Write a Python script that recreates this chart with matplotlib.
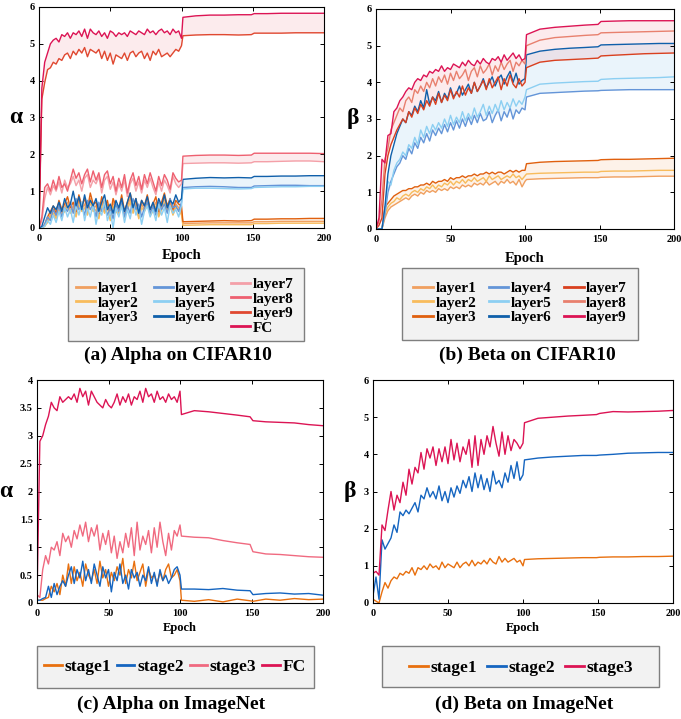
import matplotlib
matplotlib.use('Agg')
import matplotlib.pyplot as plt
from matplotlib.patches import Rectangle
from matplotlib.ticker import FuncFormatter

plt.rcParams['font.family'] = ['Liberation Serif', 'DejaVu Serif']
plt.rcParams['font.weight'] = 'bold'

# epochs: every 2 epochs up to 100, then sparser
ep = list(range(0, 101, 2)) + [101, 110, 120, 130, 140, 149, 151, 160, 170, 180, 190, 200]

# ---- (a) alpha, CIFAR10 ----
a_layer1 = [0, 0.0, 0.05, 0.2, 0.35, 0.5, 0.3, 0.6, 0.4, 0.55, 0.7, 0.45, 0.6, 0.35, 0.75, 0.5, 0.65, 0.4, 0.8, 0.55,
            0.6, 0.3, 0.7, 0.45, 0.65, 0.25, 0.7, 0.5, 0.4, 0.75, 0.35, 0.6, 0.8, 0.45, 0.7, 0.3, 0.65, 0.5, 0.75, 0.4,
            0.55, 0.7, 0.35, 0.6, 0.8, 0.5, 0.7, 0.4, 0.65, 0.55, 0.45,
            0.12, 0.13, 0.14, 0.14, 0.14, 0.14, 0.17, 0.17, 0.18, 0.18, 0.18, 0.18]
a_layer2 = [0, 0.0, 0.05, 0.15, 0.3, 0.4, 0.25, 0.5, 0.35, 0.45, 0.6, 0.4, 0.5, 0.3, 0.65, 0.45, 0.55, 0.35, 0.7, 0.45,
            0.5, 0.25, 0.6, 0.4, 0.55, 0.2, 0.6, 0.45, 0.35, 0.65, 0.3, 0.5, 0.7, 0.4, 0.6, 0.25, 0.55, 0.45, 0.65, 0.35,
            0.45, 0.6, 0.3, 0.5, 0.7, 0.45, 0.6, 0.35, 0.55, 0.5, 0.35,
            0.07, 0.08, 0.09, 0.09, 0.09, 0.09, 0.12, 0.12, 0.13, 0.13, 0.13, 0.13]
a_layer3 = [0, 0.0, 0.1, 0.3, 0.45, 0.6, 0.4, 0.75, 0.5, 0.65, 0.85, 0.55, 0.7, 0.45, 0.9, 0.6, 0.8, 0.5, 0.95, 0.65,
            0.7, 0.4, 0.85, 0.55, 0.75, 0.35, 0.8, 0.6, 0.5, 0.9, 0.45, 0.7, 0.95, 0.55, 0.8, 0.4, 0.75, 0.6, 0.9, 0.5,
            0.65, 0.85, 0.45, 0.7, 0.95, 0.6, 0.8, 0.5, 0.75, 0.65, 0.6,
            0.17, 0.18, 0.19, 0.2, 0.19, 0.2, 0.24, 0.24, 0.25, 0.25, 0.26, 0.26]
a_layer4 = [0, 0.0, 0.1, 0.3, 0.2, 0.5, 0.35, 0.6, 0.3, 0.55, 0.45, 0.7, 0.4, 0.8, 0.5, 0.6, 0.35, 0.75, 0.5, 0.65,
            0.3, 0.7, 0.45, 0.6, 0.35, 0.55, 0.25, 0.65, 0.45, 0.75, 0.3, 0.6, 0.4, 0.8, 0.5, 0.65, 0.3, 0.55, 0.7, 0.4,
            0.6, 0.35, 0.7, 0.5, 0.65, 0.4, 0.8, 0.55, 0.6, 0.45, 0.7,
            1.1, 1.12, 1.13, 1.12, 1.1, 1.1, 1.14, 1.15, 1.16, 1.16, 1.15, 1.15]
a_layer5 = [0, 0.0, 0.05, 0.2, 0.1, 0.35, 0.15, 0.45, 0.2, 0.55, 0.3, 0.5, 0.15, 0.6, 0.35, 0.7, 0.2, 0.55, 0.3, 0.65,
            0.1, 0.5, 0.35, 0.75, 0.2, 0.45, 0.0, 0.55, 0.3, 0.6, 0.15, 0.5, 0.25, 0.7, 0.35, 0.55, 0.1, 0.45, 0.6, 0.3,
            0.5, 0.2, 0.65, 0.35, 0.55, 0.15, 0.6, 0.4, 0.5, 0.3, 0.6,
            1.06, 1.08, 1.08, 1.07, 1.06, 1.07, 1.1, 1.11, 1.12, 1.12, 1.13, 1.13]
a_layer6 = [0, 0.05, 0.3, 0.55, 0.4, 0.6, 0.5, 0.7, 0.45, 0.8, 0.55, 0.65, 1.0, 0.6, 0.85, 0.5, 0.9, 0.55, 0.75, 0.6,
            0.8, 0.45, 0.7, 0.9, 0.5, 0.65, 0.4, 0.75, 0.55, 0.8, 0.45, 0.7, 0.95, 0.55, 0.8, 0.4, 0.75, 0.6, 0.85, 0.5,
            0.7, 0.45, 0.8, 0.6, 0.9, 0.55, 0.75, 0.65, 0.9, 0.7, 0.8,
            1.32, 1.35, 1.37, 1.36, 1.37, 1.36, 1.4, 1.4, 1.41, 1.41, 1.42, 1.42]
a_layer7 = [0, 0.2, 0.8, 1.1, 0.9, 1.15, 1.0, 1.25, 0.95, 1.3, 1.1, 1.2, 1.4, 1.15, 1.3, 1.0, 1.35, 1.45, 1.1, 1.3,
            1.2, 1.4, 0.95, 1.3, 1.4, 1.05, 1.25, 0.9, 1.2, 1.0, 1.3, 0.85, 1.2, 1.35, 1.0, 1.25, 0.95, 1.3, 1.1, 1.35,
            1.1, 0.9, 1.25, 1.0, 1.3, 1.15, 0.95, 1.4, 1.2, 1.1, 1.2,
            1.75, 1.76, 1.77, 1.77, 1.76, 1.77, 1.8, 1.8, 1.81, 1.82, 1.82, 1.8]
a_layer8 = [0, 0.3, 1.1, 1.2, 1.0, 1.3, 1.05, 1.4, 1.1, 1.2, 1.0, 1.3, 1.6, 1.35, 1.5, 1.2, 1.45, 1.6, 1.25, 1.55,
            1.3, 1.5, 1.1, 1.45, 1.55, 1.2, 1.4, 1.0, 1.35, 1.1, 1.45, 0.95, 1.3, 1.5, 1.15, 1.4, 1.05, 1.45, 1.2, 1.5,
            1.25, 1.0, 1.4, 1.15, 1.45, 1.3, 1.05, 1.5, 1.35, 1.25, 1.3,
            1.95, 1.97, 1.98, 1.98, 1.97, 1.98, 2.03, 2.03, 2.03, 2.03, 2.03, 2.02]
a_layer9 = [0.0, 3.5, 3.95, 4.3, 4.35, 4.5, 4.45, 4.6, 4.55, 4.7, 4.75, 4.6, 4.8, 4.7, 4.85, 4.75, 4.9, 4.65, 4.85, 4.8,
            4.75, 4.85, 4.6, 4.8, 4.55, 4.75, 4.45, 4.7, 4.65, 4.6, 4.75, 4.55, 4.75, 4.8, 4.65, 4.75, 4.8, 4.6, 4.75, 4.55,
            4.8, 4.7, 4.85, 4.65, 4.7, 4.75, 4.65, 4.75, 4.85, 4.8, 4.95,
            5.22, 5.24, 5.25, 5.25, 5.24, 5.25, 5.29, 5.29, 5.29, 5.3, 5.3, 5.3]
a_fc = [0.0, 3.8, 4.5, 4.75, 5.0, 5.1, 5.15, 5.05, 5.25, 5.2, 5.3, 5.15, 5.3, 5.25, 5.35, 5.2, 5.4, 5.15, 5.4, 5.3,
        5.25, 5.35, 5.2, 5.3, 5.15, 5.35, 5.3, 5.2, 5.3, 5.25, 5.3, 5.2, 5.35, 5.3, 5.25, 5.35, 5.3, 5.25, 5.4, 5.3,
        5.35, 5.25, 5.35, 5.4, 5.3, 5.35, 5.25, 5.4, 5.3, 5.35, 5.15,
        5.72, 5.76, 5.78, 5.78, 5.79, 5.79, 5.82, 5.82, 5.83, 5.83, 5.83, 5.83]

# ---- (b) beta, CIFAR10 ----
b_layer1 = [0.0, 0.0, 0.0, 0.3, 0.5, 0.6, 0.65, 0.7, 0.75, 0.8, 0.85, 0.8, 0.9, 0.95, 0.9, 1.0, 0.95, 1.05, 1.0, 1.05,
            1.0, 1.1, 1.05, 1.1, 1.05, 1.15, 1.1, 1.15, 1.1, 1.2, 1.15, 1.2, 1.15, 1.25, 1.2, 1.25, 1.2, 1.3, 1.2, 1.25,
            1.3, 1.2, 1.3, 1.25, 1.35, 1.25, 1.3, 1.2, 1.35, 1.15, 1.3,
            1.35, 1.37, 1.38, 1.39, 1.4, 1.4, 1.41, 1.42, 1.42, 1.43, 1.44, 1.44]
b_layer2 = [0.0, 0.0, 0.0, 0.4, 0.6, 0.7, 0.75, 0.85, 0.8, 0.9, 0.95, 0.9, 1.0, 1.05, 1.0, 1.1, 1.05, 1.15, 1.1, 1.2,
            1.1, 1.2, 1.15, 1.25, 1.2, 1.3, 1.2, 1.3, 1.25, 1.35, 1.25, 1.35, 1.3, 1.4, 1.3, 1.35, 1.4, 1.3, 1.45, 1.35,
            1.4, 1.45, 1.35, 1.4, 1.45, 1.4, 1.5, 1.4, 1.45, 1.35, 1.45,
            1.5, 1.52, 1.53, 1.54, 1.55, 1.55, 1.57, 1.58, 1.58, 1.59, 1.6, 1.6]
b_layer3 = [0.0, 0.0, 0.0, 0.6, 0.7, 0.8, 0.9, 0.95, 1.0, 1.05, 1.05, 1.1, 1.1, 1.15, 1.15, 1.2, 1.2, 1.25, 1.2, 1.3,
            1.25, 1.3, 1.3, 1.35, 1.3, 1.4, 1.35, 1.4, 1.4, 1.45, 1.4, 1.45, 1.45, 1.5, 1.45, 1.5, 1.5, 1.55, 1.5, 1.55,
            1.5, 1.55, 1.55, 1.5, 1.55, 1.6, 1.55, 1.6, 1.55, 1.6, 1.6,
            1.78, 1.82, 1.84, 1.85, 1.86, 1.87, 1.89, 1.9, 1.9, 1.91, 1.92, 1.93]
b_layer4 = [0.0, 0.0, 0.0, 0.4, 1.0, 1.3, 1.5, 1.7, 1.8, 2.0, 1.9, 2.2, 2.05, 2.35, 2.2, 2.5, 2.35, 2.6, 2.4, 2.7,
            2.55, 2.75, 2.6, 2.85, 2.65, 2.9, 2.7, 2.95, 2.75, 3.0, 2.8, 3.05, 2.85, 3.1, 2.9, 3.15, 2.95, 3.0, 3.2, 2.9,
            3.1, 3.25, 2.95, 3.2, 3.05, 3.3, 3.0, 3.25, 3.15, 3.3, 3.25,
            3.6, 3.7, 3.72, 3.74, 3.76, 3.77, 3.78, 3.79, 3.8, 3.8, 3.8, 3.8]
b_layer5 = [0.0, 0.0, 0.0, 0.5, 1.3, 1.2, 1.6, 1.8, 1.9, 2.1, 2.0, 2.3, 2.2, 2.5, 2.3, 2.7, 2.5, 2.8, 2.6, 2.85,
            2.7, 2.9, 2.75, 3.0, 2.8, 3.1, 2.85, 3.05, 2.9, 3.2, 2.95, 3.15, 3.0, 3.3, 3.05, 3.2, 3.4, 3.1, 3.35, 3.15,
            3.4, 3.2, 3.5, 3.25, 3.45, 3.3, 3.55, 3.35, 3.5, 3.4, 3.6,
            3.8, 3.95, 3.98, 4.0, 4.02, 4.03, 4.08, 4.1, 4.11, 4.12, 4.13, 4.15]
b_layer6 = [0.0, 0.0, 0.0, 0.6, 1.5, 2.0, 2.3, 2.6, 2.8, 3.0, 2.9, 3.2, 3.1, 3.35, 3.2, 3.5, 3.3, 3.8, 3.4, 3.6,
            3.5, 3.75, 3.45, 3.7, 3.55, 3.85, 3.6, 3.7, 3.9, 3.65, 3.8, 3.95, 3.7, 4.0, 3.75, 3.9, 4.1, 3.85, 4.0, 4.15,
            3.9, 4.1, 4.2, 3.95, 4.15, 4.3, 4.0, 4.25, 3.95, 4.05, 4.1,
            4.75, 4.85, 4.9, 4.93, 4.95, 4.97, 5.02, 5.03, 5.04, 5.05, 5.06, 5.06]
b_layer7 = [0.0, 0.1, 0.3, 1.5, 2.0, 2.3, 2.5, 2.7, 2.85, 3.0, 2.9, 3.2, 3.05, 3.3, 3.15, 3.4, 3.25, 3.5, 3.35, 3.6,
            3.4, 3.7, 3.45, 3.65, 3.5, 3.8, 3.55, 3.75, 3.6, 3.9, 3.65, 3.85, 3.7, 4.0, 3.75, 3.9, 4.05, 3.8, 4.1, 3.85,
            4.0, 4.15, 3.8, 4.1, 3.9, 4.2, 3.95, 3.85, 4.1, 3.9, 4.0,
            4.4, 4.55, 4.6, 4.62, 4.64, 4.66, 4.72, 4.74, 4.76, 4.78, 4.79, 4.8]
b_layer8 = [0.0, 0.2, 0.8, 1.9, 2.2, 2.7, 2.9, 3.1, 3.3, 3.2, 3.5, 3.6, 3.45, 3.8, 3.7, 3.9, 3.75, 4.0, 3.85, 4.1,
            3.9, 4.15, 4.0, 4.2, 3.95, 4.25, 4.05, 4.3, 4.1, 4.2, 4.35, 4.05, 4.3, 4.4, 4.15, 4.45, 4.25, 4.35, 4.5, 4.2,
            4.45, 4.3, 4.55, 4.35, 4.5, 4.6, 4.3, 4.55, 4.45, 4.6, 4.5,
            5.0, 5.15, 5.22, 5.25, 5.28, 5.3, 5.35, 5.36, 5.37, 5.38, 5.39, 5.4]
b_layer9 = [0.0, 0.3, 1.9, 1.8, 2.55, 2.6, 3.2, 3.3, 3.5, 3.6, 3.75, 3.85, 3.8, 4.0, 4.1, 4.05, 4.2, 4.15, 4.3, 4.25,
            4.35, 4.3, 4.45, 4.3, 4.4, 4.35, 4.5, 4.45, 4.4, 4.55, 4.45, 4.6, 4.5, 4.45, 4.6, 4.5, 4.65, 4.55, 4.5, 4.65,
            4.6, 4.7, 4.55, 4.75, 4.6, 4.7, 4.8, 4.65, 4.75, 4.6, 4.65,
            5.3, 5.45, 5.5, 5.53, 5.56, 5.58, 5.66, 5.67, 5.68, 5.68, 5.68, 5.68]

# ---- (c) alpha, ImageNet ----
c_stage1 = [0.05, 0.05, 0.05, 0.08, 0.1, 0.3, 0.2, 0.35, 0.15, 0.5, 0.3, 0.7, 0.35, 0.65, 0.4, 0.55, 0.3, 0.7, 0.5, 0.4,
            0.6, 0.35, 0.75, 0.45, 0.6, 0.3, 0.55, 0.4, 0.65, 0.5, 0.8, 0.35, 0.6, 0.45, 0.75, 0.4, 0.55, 0.7, 0.3, 0.6,
            0.45, 0.5, 0.35, 0.55, 0.4, 0.6, 0.7, 0.45, 0.5, 0.6, 0.4,
            0.05, 0.03, 0.06, 0.02, 0.07, 0.04, 0.03, 0.07, 0.05, 0.08, 0.06, 0.07]
c_stage2 = [0.05, 0.05, 0.08, 0.1, 0.3, 0.1, 0.35, 0.15, 0.3, 0.4, 0.3, 0.5, 0.65, 0.35, 0.6, 0.45, 0.75, 0.4, 0.6, 0.35,
            0.7, 0.5, 0.3, 0.65, 0.45, 0.6, 0.2, 0.55, 0.4, 0.7, 0.35, 0.5, 0.25, 0.6, 0.45, 0.55, 0.3, 0.5, 0.4, 0.65,
            0.35, 0.55, 0.3, 0.6, 0.4, 0.5, 0.35, 0.45, 0.6, 0.65, 0.5,
            0.25, 0.25, 0.24, 0.26, 0.23, 0.22, 0.15, 0.17, 0.18, 0.16, 0.17, 0.14]
c_stage3 = [0.15, 0.1, 0.6, 0.85, 0.7, 1.0, 0.95, 1.1, 0.85, 1.25, 1.1, 1.2, 1.0, 1.3, 1.15, 1.4, 1.2, 1.45, 1.1, 1.35,
            1.2, 1.4, 0.95, 1.25, 1.05, 1.3, 0.9, 1.2, 0.8, 1.1, 0.9, 1.25, 1.0, 1.35, 0.85, 1.45, 0.95, 1.2, 1.05, 1.3,
            0.9, 1.35, 1.0, 1.45, 1.1, 0.85, 1.25, 0.95, 1.3, 1.2, 1.4,
            1.2, 1.18, 1.17, 1.12, 1.08, 1.05, 0.92, 0.88, 0.87, 0.85, 0.83, 0.82]
c_fc = [0.1, 2.9, 3.0, 3.2, 3.35, 3.6, 3.5, 3.45, 3.7, 3.6, 3.65, 3.7, 3.65, 3.75, 3.6, 3.85, 3.7, 3.8, 3.55, 3.8,
        3.7, 3.6, 3.55, 3.5, 3.65, 3.55, 3.5, 3.6, 3.75, 3.55, 3.7, 3.6, 3.75, 3.55, 3.7, 3.65, 3.8, 3.6, 3.85, 3.7,
        3.75, 3.6, 3.8, 3.65, 3.7, 3.6, 3.75, 3.65, 3.7, 3.6, 3.8,
        3.38, 3.45, 3.43, 3.4, 3.37, 3.34, 3.27, 3.25, 3.24, 3.23, 3.2, 3.18]

# ---- (d) beta, ImageNet ----
d_stage1 = [0.1, 0.05, 0.0, 0.3, 0.55, 0.4, 0.6, 0.7, 0.65, 0.8, 0.75, 0.85, 0.8, 0.95, 0.75, 0.95, 0.9, 1.0, 0.9, 1.05,
            0.95, 1.0, 0.9, 1.1, 0.95, 1.05, 1.0, 0.95, 1.1, 0.95, 1.05, 1.1, 1.0, 1.15, 1.0, 1.1, 1.05, 1.15, 1.05, 1.2,
            1.1, 1.05, 1.25, 1.1, 1.2, 1.1, 1.15, 1.2, 1.1, 1.15, 1.0,
            1.17, 1.19, 1.2, 1.21, 1.22, 1.22, 1.23, 1.24, 1.24, 1.25, 1.25, 1.26]
d_stage2 = [0.2, 0.7, 0.1, 1.7, 1.45, 1.6, 1.75, 2.1, 1.9, 2.45, 2.35, 2.5, 2.4, 2.55, 2.7, 2.45, 2.9, 2.8, 3.1, 2.85,
            3.0, 2.8, 3.15, 2.75, 3.0, 2.7, 3.1, 2.85, 3.15, 2.95, 3.3, 3.1, 3.4, 3.0, 3.5, 3.1, 3.45, 3.05, 3.35, 3.0,
            3.55, 3.2, 3.3, 3.1, 3.5, 3.25, 3.7, 3.35, 3.8, 3.3, 3.45,
            3.85, 3.9, 3.93, 3.95, 3.97, 3.97, 3.98, 4.0, 4.03, 4.04, 4.05, 4.05]
d_stage3 = [0.8, 0.85, 0.75, 2.1, 1.95, 2.5, 3.0, 2.5, 2.9, 2.7, 3.25, 2.9, 3.6, 3.2, 3.65, 3.5, 4.05, 3.6, 4.15, 3.9,
            4.2, 3.7, 4.15, 3.8, 4.2, 3.75, 4.4, 3.85, 4.3, 3.8, 4.2, 4.0, 4.4, 3.65, 4.5, 3.7, 4.4, 4.0, 4.5, 4.2,
            4.75, 4.3, 3.95, 4.6, 4.0, 4.5, 4.1, 4.4, 4.3, 4.15, 4.3,
            4.85, 4.97, 5.0, 5.03, 5.05, 5.07, 5.1, 5.15, 5.14, 5.15, 5.16, 5.18]

W, H = 681, 719
fig = plt.figure(figsize=(W / 100, H / 100), dpi=100)


def add_ax(l, t, r, b):
    return fig.add_axes([l / W, 1 - b / H, (r - l) / W, (b - t) / H])


def style(ax, ymax, ystep, ylab, xsize, xpad):
    ax.set_xlim(0, 200)
    ax.set_ylim(0, ymax)
    ax.set_xticks([0, 50, 100, 150, 200])
    yt = []
    v = 0
    while v <= ymax + 1e-9:
        yt.append(v)
        v += ystep
    ax.set_yticks(yt)
    ax.yaxis.set_major_formatter(FuncFormatter(lambda x, p: '%g' % x))
    ax.tick_params(direction='in', top=True, right=True, length=3, width=0.7, labelsize=7.5)
    ax.tick_params(axis='x', pad=4)
    ax.tick_params(axis='y', pad=3)
    for s in ax.spines.values():
        s.set_linewidth(0.8)
    ax.set_xlabel('Epoch', fontsize=xsize, fontweight='bold', labelpad=xpad)
    ax.set_ylabel(ylab, fontsize=17, fontweight='bold', rotation=0, labelpad=10, va='center')


def box(x0, y0, x1, y1):
    fig.patches.append(Rectangle((x0 / W, 1 - y1 / H), (x1 - x0) / W, (y1 - y0) / H,
                                 transform=fig.transFigure, facecolor='#F2F2F2',
                                 edgecolor='#7F7F7F', linewidth=1.0, zorder=0))


def leg(handles, labels, cx, cy, ncol, size, hlen, cspace):
    lg = fig.legend(handles, labels, loc='center', bbox_to_anchor=(cx / W, 1 - cy / H),
                    bbox_transform=fig.transFigure, ncol=ncol, frameon=False,
                    prop={'weight': 'bold', 'size': size}, handlelength=hlen, handletextpad=0.15,
                    columnspacing=cspace, labelspacing=0.05, borderaxespad=0)
    for ln in lg.get_lines():
        ln.set_linewidth(2.0)
    return lg


def band(ax, ys, color):
    lo = [min(v) for v in zip(*ys)]
    hi = [max(v) for v in zip(*ys)]
    ax.fill_between(ep, lo, hi, color=color, alpha=0.12, linewidth=0)


# ---- panel (a) ----
ax = add_ax(39, 7, 324, 228)
a_names = ['layer1', 'layer2', 'layer3', 'layer4', 'layer5', 'layer6', 'layer7', 'layer8', 'layer9', 'FC']
a_data = [a_layer1, a_layer2, a_layer3, a_layer4, a_layer5, a_layer6, a_layer7, a_layer8, a_layer9, a_fc]
a_cols = ['#F0A060', '#F8BC5C', '#E0600E', '#6495D8', '#8CCFF2', '#0F5FAA',
          '#F4A0A8', '#EE6070', '#E04830', '#DC1454']
band(ax, [a_layer1, a_layer2, a_layer3], '#F39A4C')
band(ax, [a_layer4, a_layer5, a_layer6], '#5AA8E0')
band(ax, [a_layer7, a_layer8], '#EE6070')
band(ax, [a_layer9, a_fc], '#EE6070')
a_lines = []
for y, c in zip(a_data, a_cols):
    a_lines.append(ax.plot(ep, y, color=c, lw=1.0)[0])
style(ax, 6, 1, 'α', 10.5, 5)
box(68, 268, 304, 341)
leg(a_lines[:6], a_names[:6], 146, 303, 2, 11, 1.25, 1.0)
leg(a_lines[6:], a_names[6:], 262, 306, 1, 11, 1.25, 1.0)
fig.text(178 / W, 1 - 355 / H, '(a) Alpha on CIFAR10', ha='center', va='center', fontsize=14, fontweight='bold')

# ---- panel (b) ----
ax = add_ax(376, 9, 674, 229)
b_names = ['layer1', 'layer2', 'layer3', 'layer4', 'layer5', 'layer6', 'layer7', 'layer8', 'layer9']
b_data = [b_layer1, b_layer2, b_layer3, b_layer4, b_layer5, b_layer6, b_layer7, b_layer8, b_layer9]
b_cols = ['#F0A060', '#F8BC5C', '#E0600E', '#6495D8', '#8CCFF2', '#0F5FAA',
          '#D9401F', '#E8806E', '#DC1454']
band(ax, [b_layer1, b_layer2, b_layer3], '#F39A4C')
band(ax, [b_layer4, b_layer5, b_layer6], '#5AA8E0')
band(ax, [b_layer7, b_layer8, b_layer9], '#EE6070')
b_lines = []
for y, c in zip(b_data, b_cols):
    b_lines.append(ax.plot(ep, y, color=c, lw=1.0)[0])
style(ax, 6, 1, 'β', 10.5, 6)
box(402, 268, 638, 340)
leg(b_lines, b_names, 520, 303, 3, 11, 1.3, 0.8)
fig.text(527 / W, 1 - 355 / H, '(b) Beta on CIFAR10', ha='center', va='center', fontsize=14, fontweight='bold')

# ---- panel (c) ----
ax = add_ax(37, 380, 323, 603)
c_names = ['stage1', 'stage2', 'stage3', 'FC']
c_data = [c_stage1, c_stage2, c_stage3, c_fc]
c_cols = ['#E8700F', '#1565C0', '#F06A80', '#DC1454']
c_lines = []
for y, c in zip(c_data, c_cols):
    c_lines.append(ax.plot(ep, y, color=c, lw=1.0)[0])
style(ax, 4, 0.5, 'α', 9, 3)
box(37, 646, 314, 688)
leg(c_lines, c_names, 175, 667, 4, 12.5, 1.0, 0.35)
fig.text(171 / W, 1 - 704 / H, '(c) Alpha on ImageNet', ha='center', va='center', fontsize=14, fontweight='bold')

# ---- panel (d) ----
ax = add_ax(373, 380, 673, 603)
d_names = ['stage1', 'stage2', 'stage3']
d_data = [d_stage1, d_stage2, d_stage3]
d_cols = ['#E8700F', '#1565C0', '#DC1454']
d_lines = []
for y, c in zip(d_data, d_cols):
    d_lines.append(ax.plot(ep, y, color=c, lw=1.0)[0])
style(ax, 6, 1, 'β', 9, 3)
box(382, 646, 659, 687)
leg(d_lines, d_names, 521, 668, 3, 12.5, 1.1, 0.55)
fig.text(524 / W, 1 - 704 / H, '(d) Beta on ImageNet', ha='center', va='center', fontsize=14, fontweight='bold')

fig.savefig('out.png', dpi=100)
